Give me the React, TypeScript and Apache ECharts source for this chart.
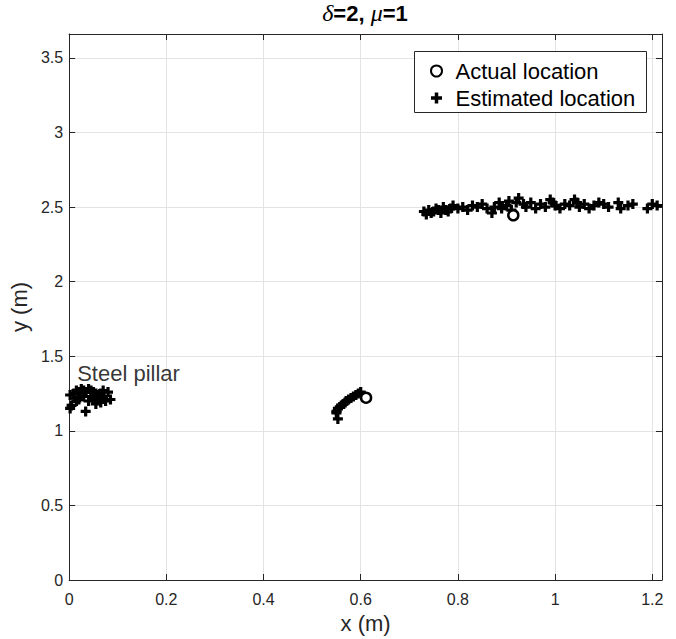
import React, { useEffect, useRef } from "react";
import * as echarts from "echarts";

const xTickLabels = ["0", "0.2", "0.4", "0.6", "0.8", "1", "1.2"];
const yTickLabels = ["0", "0.5", "1", "1.5", "2", "2.5", "3", "3.5"];

const actualLocations: [number, number][] = [
  [0.611, 1.222],
  [0.914, 2.445],
];

const estimatedLocations: [number, number][] = [
  // steel pillar cluster
  [0.002, 1.24], [0.01, 1.25], [0.015, 1.27], [0.02, 1.26], [0.025, 1.28], [0.03, 1.27],
  [0.035, 1.26], [0.04, 1.28], [0.045, 1.27], [0.05, 1.26], [0.055, 1.25], [0.06, 1.24],
  [0.065, 1.25], [0.07, 1.23], [0.08, 1.26], [0.085, 1.21], [0.075, 1.2], [0.06, 1.21],
  [0.05, 1.22], [0.04, 1.2], [0.03, 1.23], [0.02, 1.21], [0.01, 1.22], [0.005, 1.17],
  [0.002, 1.15], [0.034, 1.13], [0.055, 1.18], [0.065, 1.19], [0.025, 1.24], [0.045, 1.23],
  [0.07, 1.27], [0.015, 1.2],
  // middle cluster
  [0.55, 1.13], [0.553, 1.15], [0.557, 1.16], [0.56, 1.17], [0.565, 1.18], [0.57, 1.2],
  [0.575, 1.21], [0.58, 1.22], [0.59, 1.24], [0.595, 1.25], [0.6, 1.26], [0.553, 1.08],
  [0.585, 1.23], [0.568, 1.19], [0.55, 1.12],
  // right cluster
  [0.73, 2.47], [0.735, 2.45], [0.74, 2.48], [0.745, 2.46], [0.75, 2.47], [0.755, 2.49],
  [0.76, 2.48], [0.765, 2.46], [0.77, 2.5], [0.775, 2.48], [0.78, 2.47], [0.785, 2.49],
  [0.79, 2.51], [0.8, 2.49], [0.81, 2.5], [0.82, 2.48], [0.83, 2.51], [0.84, 2.5],
  [0.85, 2.52], [0.86, 2.49], [0.87, 2.46], [0.875, 2.5], [0.885, 2.53], [0.89, 2.49],
  [0.9, 2.51], [0.905, 2.54], [0.91, 2.48], [0.92, 2.53], [0.925, 2.56], [0.935, 2.52],
  [0.94, 2.5], [0.95, 2.53], [0.96, 2.49], [0.97, 2.52], [0.98, 2.5], [0.99, 2.55],
  [0.995, 2.53], [1.0, 2.51], [1.01, 2.49], [1.02, 2.52], [1.03, 2.51], [1.04, 2.55],
  [1.045, 2.53], [1.05, 2.5], [1.06, 2.52], [1.07, 2.49], [1.08, 2.51], [1.09, 2.53],
  [1.1, 2.52], [1.11, 2.5], [1.13, 2.53], [1.135, 2.49], [1.15, 2.51], [1.16, 2.52],
  [1.19, 2.49], [1.2, 2.52], [1.21, 2.51],
];

const annotationPoint: [number, number] = [0.0, 1.385];
const annotationText = "Steel pillar";
const titleText = "{i|δ}{b|=2, }{i|μ}{b|=1}";

const X_MIN = 0;
const X_MAX = 1.22;
const Y_MIN = 0;
const Y_MAX = 3.66;

const PLUS = "path://M3.4,0H6.6V3.4H10V6.6H6.6V10H3.4V6.6H0V3.4H3.4Z";
const FONT = "'Liberation Sans', Arial, Helvetica, sans-serif";
const SERIF = "'Liberation Serif', 'Times New Roman', serif";
const AXIS_COLOR = "#262626";

export default function App() {
  const ref = useRef<HTMLDivElement>(null);
  useEffect(() => {
    if (!ref.current) return;
    const chart = echarts.init(ref.current, null, { renderer: "svg" });
    const tickLabel = (labels: string[]) => (v: number) => {
      const s = String(Math.round(v * 10) / 10);
      return labels.includes(s) ? s : "";
    };
    const baseX = {
      type: "value",
      min: X_MIN,
      max: X_MAX,
      interval: 0.2,
      axisLine: { show: true, onZero: false, lineStyle: { color: AXIS_COLOR, width: 1 } },
      axisTick: { show: true, inside: true, length: 6, lineStyle: { color: AXIS_COLOR } },
    };
    const baseY = {
      type: "value",
      min: Y_MIN,
      max: Y_MAX,
      interval: 0.5,
      axisLine: { show: true, onZero: false, lineStyle: { color: AXIS_COLOR, width: 1 } },
      axisTick: { show: true, inside: true, length: 6, lineStyle: { color: AXIS_COLOR } },
    };
    chart.setOption({
      animation: false,
      backgroundColor: "#ffffff",
      grid: { left: 68, right: 14, top: 34, bottom: 55, containLabel: false },
      xAxis: [
        {
          ...baseX,
          position: "bottom",
          name: "x (m)",
          nameLocation: "middle",
          nameGap: 32,
          nameTextStyle: { fontFamily: FONT, fontSize: 22, color: AXIS_COLOR },
          axisLabel: {
            showMaxLabel: false,
            margin: 11,
            fontFamily: FONT,
            fontSize: 16,
            color: AXIS_COLOR,
            formatter: tickLabel(xTickLabels),
          },
          splitLine: { show: true, lineStyle: { color: "#e3e3e3", width: 1 } },
        },
        {
          ...baseX,
          position: "top",
          axisLabel: { show: false },
          splitLine: { show: false },
        },
      ],
      yAxis: [
        {
          ...baseY,
          position: "left",
          name: "y (m)",
          nameLocation: "middle",
          nameGap: 39,
          nameRotate: 90,
          nameTextStyle: { fontFamily: FONT, fontSize: 22, color: AXIS_COLOR },
          axisLabel: {
            showMaxLabel: false,
            margin: 6,
            fontFamily: FONT,
            fontSize: 16,
            color: AXIS_COLOR,
            formatter: tickLabel(yTickLabels),
          },
          splitLine: { show: true, lineStyle: { color: "#e3e3e3", width: 1 } },
        },
        {
          ...baseY,
          position: "right",
          axisLabel: { show: false },
          splitLine: { show: false },
        },
      ],
      legend: {
        left: 425,
        top: 55,
        orient: "vertical",
        itemGap: 5,
        itemWidth: 28,
        itemHeight: 11,
        z: 20,
        data: ["Actual location", "Estimated location"],
        textStyle: { fontFamily: FONT, fontSize: 22, color: "#000", lineHeight: 22 },
        selectedMode: false,
      },
      graphic: [
        {
          type: "rect",
          shape: { x: 414.5, y: 51.5, width: 232, height: 61 },
          style: { fill: "#ffffff", stroke: AXIS_COLOR, lineWidth: 1 },
          z: 10,
          silent: true,
        },
        {
          type: "text",
          x: 365,
          y: 13,
          z: 10,
          silent: true,
          style: {
            text: titleText,
            align: "center",
            verticalAlign: "middle",
            fill: "#000",
            rich: {
              i: { fontFamily: SERIF, fontStyle: "italic", fontSize: 24, fill: "#000" },
              b: { fontFamily: FONT, fontWeight: "bold", fontSize: 22, fill: "#000" },
            },
          },
        },
      ],
      series: [
        {
          name: "Estimated location",
          type: "scatter",
          data: estimatedLocations,
          symbol: PLUS,
          symbolSize: 10,
          itemStyle: { color: "#000000", opacity: 1 },
          z: 3,
        },
        {
          name: "Actual location",
          type: "scatter",
          data: actualLocations,
          symbol: "circle",
          symbolSize: 10,
          itemStyle: { color: "#ffffff", borderColor: "#000000", borderWidth: 2.5, opacity: 1 },
          z: 4,
        },
        {
          name: "annotation",
          type: "scatter",
          data: [annotationPoint],
          symbolSize: 0,
          silent: true,
          label: {
            show: true,
            position: "right",
            distance: 8,
            formatter: annotationText,
            fontFamily: FONT,
            fontSize: 22,
            color: "#000",
          },
          z: 5,
        },
      ],
    });
    return () => chart.dispose();
  }, []);
  return (
    <div
      ref={ref}
      style={{ position: "fixed", left: 0, top: 0, width: 676, height: 639 }}
    />
  );
}
